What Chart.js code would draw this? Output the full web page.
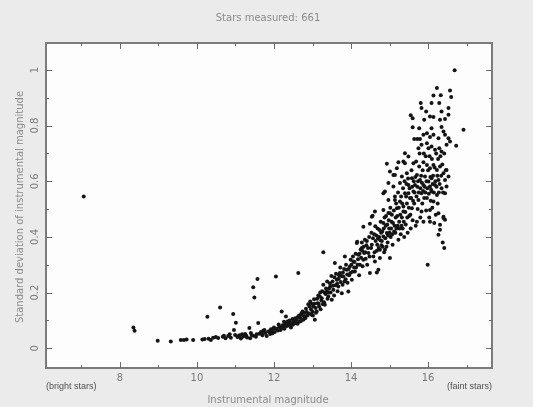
<!DOCTYPE html>
<html>
<head>
<meta charset="utf-8">
<script src="https://cdn.jsdelivr.net/npm/chart.js@4.4.1/dist/chart.umd.min.js"></script>
<style>
  html, body { margin: 0; padding: 0; background: #ebebeb; }
  #wrap { width: 533px; height: 407px; }
</style>
</head>
<body>
<div id="wrap"><canvas id="starChart" width="533" height="407"></canvas></div>
<script>
// Labels
const titleText = "Stars measured: 661";
const xAxisTitle = "Instrumental magnitude";
const yAxisTitle = "Standard deviation of instrumental magnitude";
const brightNote = "(bright stars)";
const faintNote = "(faint stars)";

// Tick values
const xMajorTicks = [8, 10, 12, 14, 16];
const xMinorTicks = [7, 9, 11, 13, 15, 17];
const yMajorTicks = [0, 0.2, 0.4, 0.6, 0.8, 1];
const yMinorTicks = [0.1, 0.3, 0.5, 0.7, 0.9];
const yTickLabels = ["0", "0.2", "0.4", "0.6", "0.8", "1"];

// Bright stars (mag < 12)
const brightMag = [
  7.06, 8.35, 8.38, 8.98, 9.32, 9.58, 9.66, 9.73, 9.90,
  10.14, 10.20, 10.27, 10.30, 10.36, 10.42, 10.49, 10.55, 10.60,
  10.67, 10.70, 10.74, 10.81, 10.85, 10.88, 10.94, 10.96, 10.99,
  11.01, 11.05, 11.08, 11.10, 11.14, 11.17, 11.20, 11.25, 11.28,
  11.30, 11.36, 11.38, 11.40, 11.42, 11.46, 11.46, 11.49, 11.53,
  11.55, 11.57, 11.59, 11.62, 11.66, 11.68, 11.70, 11.72, 11.75,
  11.77, 11.81, 11.85, 11.88, 11.90, 11.92, 11.94, 11.96, 11.98
];
const brightDev = [
  0.545, 0.075, 0.063, 0.027, 0.024, 0.030, 0.030, 0.031, 0.030,
  0.031, 0.033, 0.113, 0.034, 0.030, 0.038, 0.040, 0.037, 0.146,
  0.041, 0.045, 0.036, 0.044, 0.050, 0.038, 0.123, 0.066, 0.048,
  0.092, 0.040, 0.043, 0.047, 0.035, 0.050, 0.042, 0.051, 0.045,
  0.039, 0.073, 0.036, 0.055, 0.048, 0.045, 0.219, 0.182, 0.041,
  0.050, 0.249, 0.091, 0.052, 0.058, 0.055, 0.047, 0.063, 0.066,
  0.055, 0.044, 0.060, 0.058, 0.051, 0.068, 0.062, 0.054, 0.070
];

// Middle range (12 - 14.5)
const middleMag = [
  12.00, 12.02, 12.05, 12.07, 12.10, 12.12, 12.14, 12.17, 12.19, 12.20,
  12.22, 12.24, 12.26, 12.27, 12.29, 12.31, 12.33, 12.35, 12.36, 12.38,
  12.40, 12.42, 12.44, 12.46, 12.48, 12.49, 12.51, 12.53, 12.55, 12.57,
  12.59, 12.61, 12.62, 12.63, 12.65, 12.66, 12.68, 12.70, 12.71, 12.72,
  12.74, 12.76, 12.78, 12.79, 12.81, 12.82, 12.83, 12.85, 12.87, 12.89,
  12.91, 12.92, 12.94, 12.96, 12.97, 12.98, 13.00, 13.01, 13.02, 13.04,
  13.05, 13.06, 13.08, 13.09, 13.11, 13.12, 13.13, 13.15, 13.16, 13.17,
  13.19, 13.20, 13.21, 13.23, 13.24, 13.25, 13.27, 13.28, 13.28, 13.30,
  13.31, 13.32, 13.34, 13.35, 13.37, 13.38, 13.39, 13.41, 13.42, 13.43,
  13.45, 13.46, 13.47, 13.49, 13.50, 13.52, 13.53, 13.54, 13.56, 13.57,
  13.58, 13.60, 13.61, 13.63, 13.64, 13.65, 13.67, 13.68, 13.69, 13.71,
  13.72, 13.73, 13.75, 13.76, 13.78, 13.79, 13.80, 13.82, 13.83, 13.84,
  13.86, 13.87, 13.89, 13.90, 13.91, 13.93, 13.94, 13.95, 13.97, 13.98,
  13.99, 14.01, 14.02, 14.04, 14.05, 14.06, 14.08, 14.09, 14.10, 14.12,
  14.13, 14.15, 14.16, 14.17, 14.18, 14.19, 14.21, 14.22, 14.23, 14.25,
  14.26, 14.28, 14.28, 14.29, 14.30, 14.32, 14.32, 14.33, 14.34, 14.36,
  14.37, 14.38, 14.40, 14.41, 14.42, 14.44, 14.45, 14.47, 14.48, 14.49,
  14.49
];
const middleDev = [
  0.075, 0.058, 0.258, 0.070, 0.064, 0.085, 0.077, 0.066, 0.072, 0.132,
  0.083, 0.077, 0.095, 0.070, 0.087, 0.114, 0.080, 0.096, 0.082, 0.090,
  0.100, 0.084, 0.075, 0.091, 0.105, 0.084, 0.098, 0.090, 0.108, 0.092,
  0.102, 0.088, 0.112, 0.270, 0.118, 0.095, 0.109, 0.098, 0.125, 0.120,
  0.132, 0.102, 0.114, 0.128, 0.108, 0.115, 0.142, 0.130, 0.118, 0.158,
  0.125, 0.150, 0.168, 0.140, 0.160, 0.120, 0.132, 0.118, 0.150, 0.176,
  0.160, 0.102, 0.145, 0.128, 0.132, 0.178, 0.162, 0.190, 0.160, 0.150,
  0.186, 0.200, 0.140, 0.172, 0.180, 0.205, 0.158, 0.228, 0.345, 0.165,
  0.200, 0.156, 0.195, 0.215, 0.204, 0.240, 0.178, 0.186, 0.200, 0.215,
  0.234, 0.222, 0.200, 0.260, 0.174, 0.240, 0.225, 0.210, 0.190, 0.255,
  0.306, 0.226, 0.268, 0.246, 0.232, 0.205, 0.222, 0.250, 0.262, 0.270,
  0.290, 0.238, 0.260, 0.198, 0.228, 0.272, 0.258, 0.285, 0.240, 0.330,
  0.248, 0.300, 0.282, 0.265, 0.235, 0.204, 0.285, 0.262, 0.294, 0.270,
  0.318, 0.300, 0.246, 0.275, 0.330, 0.312, 0.290, 0.310, 0.276, 0.340,
  0.290, 0.378, 0.383, 0.300, 0.320, 0.336, 0.262, 0.340, 0.300, 0.355,
  0.325, 0.360, 0.380, 0.350, 0.295, 0.318, 0.437, 0.365, 0.342, 0.390,
  0.345, 0.322, 0.370, 0.385, 0.300, 0.360, 0.342, 0.400, 0.330, 0.270,
  0.447
];

// Faint stars (mag > 14.5), scattered points
const faintMag = [
  14.52, 14.54, 14.54, 14.56, 14.58, 14.60, 14.62, 14.62, 14.64, 14.67,
  14.67, 14.69, 14.71, 14.73, 14.75, 14.75, 14.77, 14.79, 14.81, 14.84,
  14.84, 14.84, 14.84, 14.86, 14.88, 14.88, 14.90, 14.93, 14.93, 14.95,
  14.97, 14.97, 14.97, 14.99, 15.01, 15.01, 15.01, 15.03, 15.05, 15.08,
  15.10, 15.10, 15.12, 15.14, 15.14, 15.14, 15.16, 15.19, 15.19, 15.21,
  15.23, 15.23, 15.25, 15.27, 15.27, 15.29, 15.32, 15.32, 15.34, 15.36,
  15.36, 15.36, 15.38, 15.40, 15.40, 15.40, 15.42, 15.45, 15.45, 15.47,
  15.49, 15.49, 15.49, 15.51, 15.53, 15.55, 15.55, 15.58, 15.58, 15.60,
  15.60, 15.60, 15.62, 15.62, 15.64, 15.64, 15.66, 15.68, 15.69, 15.71,
  15.71, 15.72, 15.73, 15.75, 15.75, 15.77, 15.77, 15.79, 15.79, 15.80,
  15.81, 15.83, 15.83, 15.83, 15.83, 15.85, 15.88, 15.88, 15.88, 15.88,
  15.90, 15.90, 15.92, 15.95, 15.95, 15.97, 15.97, 15.97, 15.97, 15.99,
  16.01, 16.01, 16.03, 16.05, 16.05, 16.05, 16.05, 16.05, 16.05, 16.07,
  16.09, 16.09, 16.09, 16.09, 16.09, 16.11, 16.14, 16.14, 16.14, 16.14,
  16.14, 16.16, 16.18, 16.18, 16.20, 16.23, 16.23, 16.23, 16.25, 16.27,
  16.27, 16.27, 16.27, 16.29, 16.29, 16.31, 16.31, 16.31, 16.31, 16.33,
  16.35, 16.35, 16.35, 16.35, 16.38, 16.40, 16.40, 16.40, 16.40, 16.42,
  16.44, 16.44, 16.44, 16.44, 16.44, 16.48, 16.48, 16.48, 16.53, 16.53,
  16.53, 16.53, 16.57, 16.57, 16.60, 16.69, 16.73, 16.92
];
const faintDev = [
  0.360, 0.372, 0.473, 0.476, 0.330, 0.410, 0.312, 0.491, 0.385, 0.272,
  0.350, 0.430, 0.282, 0.400, 0.354, 0.324, 0.455, 0.370, 0.420, 0.402,
  0.450, 0.497, 0.557, 0.345, 0.354, 0.563, 0.440, 0.414, 0.663, 0.380,
  0.486, 0.533, 0.594, 0.430, 0.324, 0.485, 0.635, 0.400, 0.455, 0.372,
  0.581, 0.623, 0.420, 0.533, 0.545, 0.623, 0.470, 0.503, 0.647, 0.440,
  0.668, 0.390, 0.455, 0.527, 0.594, 0.410, 0.617, 0.470, 0.430, 0.491,
  0.509, 0.671, 0.400, 0.557, 0.665, 0.701, 0.445, 0.629, 0.520, 0.415,
  0.557, 0.587, 0.689, 0.475, 0.540, 0.837, 0.430, 0.503, 0.611, 0.827,
  0.794, 0.460, 0.563, 0.665, 0.752, 0.520, 0.587, 0.440, 0.671, 0.623,
  0.455, 0.752, 0.500, 0.533, 0.719, 0.653, 0.791, 0.605, 0.752, 0.470,
  0.881, 0.863, 0.557, 0.491, 0.731, 0.520, 0.587, 0.668, 0.767, 0.455,
  0.821, 0.540, 0.617, 0.851, 0.495, 0.540, 0.659, 0.737, 0.773, 0.300,
  0.599, 0.719, 0.470, 0.497, 0.581, 0.647, 0.759, 0.833, 0.455, 0.530,
  0.563, 0.611, 0.725, 0.791, 0.881, 0.505, 0.527, 0.659, 0.767, 0.831,
  0.908, 0.450, 0.587, 0.713, 0.480, 0.551, 0.641, 0.935, 0.520, 0.408,
  0.485, 0.605, 0.755, 0.719, 0.881, 0.426, 0.444, 0.653, 0.821, 0.909,
  0.575, 0.707, 0.795, 0.851, 0.380, 0.468, 0.473, 0.629, 0.779, 0.360,
  0.462, 0.557, 0.605, 0.767, 0.824, 0.581, 0.641, 0.731, 0.617, 0.755,
  0.839, 0.863, 0.743, 0.926, 0.903, 0.999, 0.728, 0.785
];

// Faint stars, dense core of the cloud
const coreMag = [
  14.53, 14.57, 14.61, 14.63, 14.66, 14.68, 14.70, 14.72, 14.74, 14.76,
  14.78, 14.80, 14.82, 14.85, 14.87, 14.89, 14.91, 14.92, 14.94, 14.96,
  14.98, 15.00, 15.02, 15.04, 15.06, 15.07, 15.09, 15.11, 15.13, 15.15,
  15.17, 15.18, 15.20, 15.22, 15.24, 15.26, 15.28, 15.30, 15.31, 15.33,
  15.35, 15.37, 15.39, 15.41, 15.43, 15.44, 15.46, 15.48, 15.50, 15.52,
  15.54, 15.56, 15.57, 15.59, 15.61, 15.63, 15.65, 15.67, 15.70, 15.72,
  15.74, 15.76, 15.78, 15.80, 15.82, 15.84, 15.86, 15.87, 15.89, 15.91,
  15.93, 15.94, 15.96, 15.98, 16.00, 16.02, 16.04, 16.06, 16.08, 16.10,
  16.12, 16.13, 16.15, 16.17, 16.19, 16.21, 16.22, 16.24, 16.26, 16.28,
  16.30, 16.32, 16.34, 16.37, 16.39, 16.42, 16.46
];
const coreDev = [
  0.415, 0.395, 0.345, 0.438, 0.405, 0.372, 0.395, 0.360, 0.425, 0.388,
  0.415, 0.385, 0.365, 0.430, 0.470, 0.395, 0.475, 0.365, 0.445, 0.405,
  0.460, 0.415, 0.505, 0.430, 0.480, 0.410, 0.450, 0.495, 0.440, 0.415,
  0.520, 0.430, 0.475, 0.560, 0.505, 0.430, 0.480, 0.545, 0.440, 0.520,
  0.575, 0.455, 0.600, 0.490, 0.545, 0.590, 0.470, 0.610, 0.505, 0.575,
  0.480, 0.540, 0.640, 0.580, 0.530, 0.600, 0.560, 0.615, 0.545, 0.580,
  0.600, 0.560, 0.700, 0.575, 0.620, 0.595, 0.640, 0.565, 0.700, 0.580,
  0.560, 0.690, 0.600, 0.575, 0.640, 0.555, 0.690, 0.615, 0.570, 0.680,
  0.590, 0.620, 0.560, 0.650, 0.600, 0.700, 0.580, 0.620, 0.680, 0.560,
  0.590, 0.690, 0.620, 0.660, 0.560, 0.700, 0.640
];

function toPoints(mags, devs) {
  return mags.map((m, i) => ({ x: m, y: devs[i] }));
}

const starPoints = [
  ...toPoints(brightMag, brightDev),
  ...toPoints(middleMag, middleDev),
  ...toPoints(faintMag, faintDev),
  ...toPoints(coreMag, coreDev),
];

const textColor = "#8a8a8a";
const fontFamily = "'DejaVu Sans', sans-serif";

// draws the background, boxed frame, inward ticks and all the text
const framePlugin = {
  id: "frame",
  beforeDraw(chart) {
    const { ctx, chartArea: a } = chart;
    ctx.save();
    ctx.fillStyle = "#ebebeb";
    ctx.fillRect(0, 0, chart.width, chart.height);
    ctx.fillStyle = "#fdfdfd";
    ctx.fillRect(a.left, a.top, a.right - a.left, a.bottom - a.top);
    ctx.restore();
  },
  afterDraw(chart) {
    const { ctx, chartArea: a } = chart;
    const xs = chart.scales.x;
    const ys = chart.scales.y;
    ctx.save();

    // frame
    ctx.strokeStyle = "#7c7c7c";
    ctx.lineWidth = 2;
    ctx.strokeRect(a.left, a.top, a.right - a.left, a.bottom - a.top);

    // ticks on all four sides, pointing inward
    ctx.lineWidth = 1;
    ctx.strokeStyle = "#6a6a6a";
    const xTick = (v, len) => {
      const px = Math.round(xs.getPixelForValue(v)) + 0.5;
      ctx.beginPath();
      ctx.moveTo(px, a.bottom);
      ctx.lineTo(px, a.bottom - len);
      ctx.moveTo(px, a.top);
      ctx.lineTo(px, a.top + len);
      ctx.stroke();
    };
    const yTick = (v, len) => {
      const py = Math.round(ys.getPixelForValue(v)) + 0.5;
      ctx.beginPath();
      ctx.moveTo(a.left, py);
      ctx.lineTo(a.left + len, py);
      ctx.moveTo(a.right, py);
      ctx.lineTo(a.right - len, py);
      ctx.stroke();
    };
    xMajorTicks.forEach((v) => xTick(v, 6));
    xMinorTicks.forEach((v) => xTick(v, 3));
    yMajorTicks.forEach((v) => yTick(v, 6));
    yMinorTicks.forEach((v) => yTick(v, 3));

    // tick labels
    ctx.fillStyle = "#7a7a7a";
    ctx.font = "10px " + fontFamily;
    ctx.textAlign = "center";
    ctx.textBaseline = "middle";
    xMajorTicks.forEach((v) => {
      ctx.fillText(String(v), xs.getPixelForValue(v), a.bottom + 10);
    });
    yMajorTicks.forEach((v, i) => {
      ctx.save();
      ctx.translate(a.left - 11, ys.getPixelForValue(v));
      ctx.rotate(-Math.PI / 2);
      ctx.fillText(yTickLabels[i], 0, 0);
      ctx.restore();
    });

    // titles
    ctx.fillStyle = textColor;
    ctx.font = "10px " + fontFamily;
    ctx.fillText(titleText, 268, 18);
    ctx.fillText(xAxisTitle, 268, 400);
    ctx.save();
    ctx.translate(20, 207);
    ctx.rotate(-Math.PI / 2);
    ctx.fillText(yAxisTitle, 0, 0);
    ctx.restore();

    // end notes
    ctx.fillStyle = "#505050";
    ctx.font = "9px 'Liberation Sans', sans-serif";
    ctx.textAlign = "left";
    ctx.fillText(brightNote, a.left, a.bottom + 19);
    ctx.textAlign = "right";
    ctx.fillText(faintNote, a.right, a.bottom + 19);

    ctx.restore();
  },
};

document.addEventListener("DOMContentLoaded", () => {
  const canvas = document.getElementById("starChart");
  new Chart(canvas.getContext("2d"), {
    type: "scatter",
    data: {
      datasets: [
        {
          label: "Stars",
          data: starPoints,
          backgroundColor: "#151515",
          borderColor: "#151515",
          borderWidth: 0,
          pointRadius: 2,
        },
      ],
    },
    options: {
      responsive: false,
      animation: false,
      devicePixelRatio: 1,
      layout: { padding: { left: 46, top: 43, right: 41, bottom: 39 } },
      plugins: {
        legend: { display: false },
        title: { display: false },
        tooltip: { enabled: false },
      },
      scales: {
        x: { type: "linear", min: 6.08, max: 17.66, display: false },
        y: { type: "linear", min: -0.071, max: 1.097, display: false },
      },
    },
    plugins: [framePlugin],
  });
});
</script>
</body>
</html>
